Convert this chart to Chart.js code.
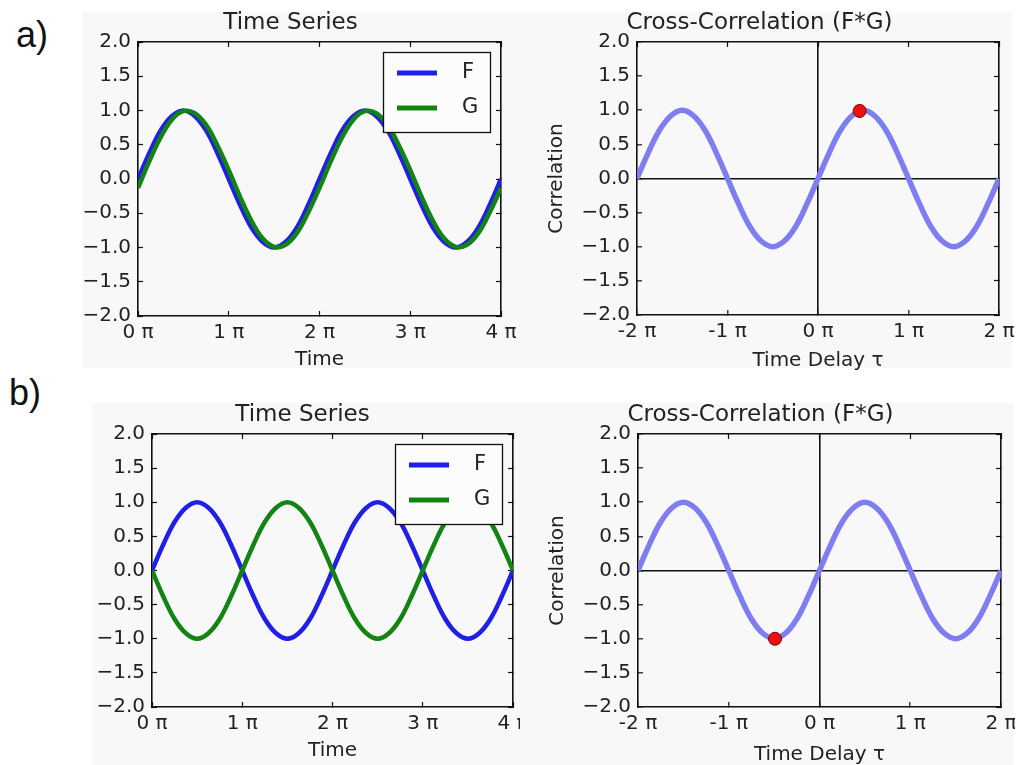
<!DOCTYPE html>
<html><head><meta charset="utf-8">
<script src="https://cdn.jsdelivr.net/npm/chart.js@4.4.1/dist/chart.umd.min.js"></script>
<style>
html,body{margin:0;padding:0;background:#fff;}
body{width:1016px;height:765px;position:relative;overflow:hidden;}
.row{position:absolute;background:#f8f8f9;}
canvas{position:absolute;}
.tag{position:absolute;font-family:'Liberation Sans',Arial,sans-serif;font-size:36px;color:#111;line-height:1;}
</style></head><body>
<div class="row" style="left:82px;top:12px;width:930px;height:356px"></div>
<div class="row" style="left:92px;top:403px;width:922px;height:362px"></div>
<div class="tag" style="left:16px;top:17px">a)</div>
<div class="tag" style="left:9px;top:375px">b)</div>
<canvas id="aL"></canvas>
<canvas id="aR"></canvas>
<canvas id="bL"></canvas>
<canvas id="bR"></canvas>
<script>
// ---- data (x in units of pi) ----
const timeX = [0,0.125,0.25,0.375,0.5,0.625,0.75,0.875,1,1.125,1.25,1.375,1.5,1.625,1.75,1.875,2,2.125,2.25,2.375,2.5,2.625,2.75,2.875,3,3.125,3.25,3.375,3.5,3.625,3.75,3.875,4];
const lagX = [-2,-1.875,-1.75,-1.625,-1.5,-1.375,-1.25,-1.125,-1,-0.875,-0.75,-0.625,-0.5,-0.375,-0.25,-0.125,0,0.125,0.25,0.375,0.5,0.625,0.75,0.875,1,1.125,1.25,1.375,1.5,1.625,1.75,1.875,2];

const fA = [0,0.38,0.71,0.92,1,0.92,0.71,0.38,0,-0.38,-0.71,-0.92,-1,-0.92,-0.71,-0.38,0,0.38,0.71,0.92,1,0.92,0.71,0.38,0,-0.38,-0.71,-0.92,-1,-0.92,-0.71,-0.38,0];
const gA = [-0.13,0.26,0.61,0.87,0.99,0.96,0.79,0.49,0.13,-0.26,-0.61,-0.87,-0.99,-0.96,-0.79,-0.49,-0.13,0.26,0.61,0.87,0.99,0.96,0.79,0.49,0.13,-0.26,-0.61,-0.87,-0.99,-0.96,-0.79,-0.49,-0.13];
const corrA = [0,0.38,0.71,0.92,1,0.92,0.71,0.38,0,-0.38,-0.71,-0.92,-1,-0.92,-0.71,-0.38,0,0.38,0.71,0.92,1,0.92,0.71,0.38,0,-0.38,-0.71,-0.92,-1,-0.92,-0.71,-0.38,0];
const dotAX = [0.46];
const dotAY = [0.99];

const fB = [0,0.38,0.71,0.92,1,0.92,0.71,0.38,0,-0.38,-0.71,-0.92,-1,-0.92,-0.71,-0.38,0,0.38,0.71,0.92,1,0.92,0.71,0.38,0,-0.38,-0.71,-0.92,-1,-0.92,-0.71,-0.38,0];
const gB = [0,-0.38,-0.71,-0.92,-1,-0.92,-0.71,-0.38,0,0.38,0.71,0.92,1,0.92,0.71,0.38,0,-0.38,-0.71,-0.92,-1,-0.92,-0.71,-0.38,0,0.38,0.71,0.92,1,0.92,0.71,0.38,0];
const corrB = [0,0.38,0.71,0.92,1,0.92,0.71,0.38,0,-0.38,-0.71,-0.92,-1,-0.92,-0.71,-0.38,0,0.38,0.71,0.92,1,0.92,0.71,0.38,0,-0.38,-0.71,-0.92,-1,-0.92,-0.71,-0.38,0];
const dotBX = [-0.49];
const dotBY = [-1.0];

const yTickLabels = ['\u22122.0','\u22121.5','\u22121.0','\u22120.5','0.0','0.5','1.0','1.5','2.0'];
const timeTickLabels = ['0 \u03c0','1 \u03c0','2 \u03c0','3 \u03c0','4 \u03c0'];
const lagTickLabels = ['-2 \u03c0','-1 \u03c0','0 \u03c0','1 \u03c0','2 \u03c0'];
const seriesNames = ['F','G'];

// ---- styling ----
const FONT = "'DejaVu Sans', sans-serif";
const TXT = '#222';
const FRAME = '#111';
const BLUE = '#1f1fe6';
const GREEN = '#138313';
const CORR = '#7e7ef0';
Chart.defaults.font.family = FONT;
Chart.defaults.color = TXT;

const pts = (xs, ys) => xs.map((x, i) => ({x, y: ys[i]}));

const boxLegend = {
  id: 'boxLegend',
  afterDatasetsDraw(chart, args, opts) {
    if (!opts || !opts.show) return;
    const {ctx, chartArea: ca} = chart;
    const w = 107, h = 80;
    const x0 = Math.round(ca.right - 11 - w), y0 = Math.round(ca.top + 10);
    ctx.save();
    ctx.fillStyle = '#fcfcfd';
    ctx.fillRect(x0, y0, w, h);
    ctx.strokeStyle = FRAME; ctx.lineWidth = 1.3;
    ctx.strokeRect(x0 + 0.5, y0 + 0.5, w, h);
    chart.data.datasets.filter(d => d.label).forEach((d, i) => {
      const y = y0 + 21 + i * 35;
      ctx.strokeStyle = d.borderColor; ctx.lineWidth = 5;
      ctx.beginPath(); ctx.moveTo(x0 + 14, y); ctx.lineTo(x0 + 54, y); ctx.stroke();
      ctx.fillStyle = TXT; ctx.font = "21px 'DejaVu Sans'";
      ctx.textBaseline = 'middle'; ctx.textAlign = 'left';
      ctx.fillText(d.label, x0 + 79, y);
    });
    ctx.restore();
  }
};

function makePanel(id, p) {
  const cv = document.getElementById(id);
  const W = p.L + p.plotW + p.R, H = p.T + p.plotH + p.B;
  cv.width = W; cv.height = H;
  cv.style.left = p.left + 'px'; cv.style.top = p.top + 'px';
  cv.style.width = W + 'px'; cv.style.height = H + 'px';
  const zeroGrid = p.zeroLines
    ? {drawOnChartArea: true, color: c => (c.tick && c.tick.value === 0) ? '#111' : 'rgba(0,0,0,0)', lineWidth: 1.6, tickColor: FRAME, tickLength: -5, tickWidth: 1.2}
    : {drawOnChartArea: false, tickColor: FRAME, tickLength: -5, tickWidth: 1.2};
  const tickFont = {size: 20, lineHeight: '22px'};
  new Chart(cv, {
    type: 'line',
    data: {datasets: p.datasets},
    options: {
      responsive: false, animation: false, events: [],
      layout: {padding: {left: 0, right: p.R, top: 0, bottom: 0}},
      plugins: {
        legend: {display: false}, tooltip: {enabled: false},
        title: {display: true, text: p.title, color: TXT,
          font: {size: 23, weight: 'normal', lineHeight: p.titleLH + 'px'},
          padding: {top: p.titlePT, bottom: p.T - p.titleLH - p.titlePT}},
        boxLegend: {show: p.legend}
      },
      scales: {
        x: {type: 'linear', position: 'bottom', min: p.xMin, max: p.xMax,
          ticks: {stepSize: 1, padding: 10.5, font: tickFont, color: TXT, maxRotation: 0, autoSkip: false,
            callback: (v, i) => p.xLabels[i]},
          grid: zeroGrid,
          border: {display: true, color: FRAME, width: 1.6},
          title: {display: true, text: p.xTitle, color: TXT, font: {size: 20, lineHeight: '22px'}, padding: {top: 0, bottom: p.xTitlePB}},
          afterFit: s => { s.height = p.B; s.paddingLeft = 0; s.paddingRight = 0; }
        },
        y: {type: 'linear', position: 'left', min: -2, max: 2,
          ticks: {stepSize: 0.5, padding: 12, font: tickFont, color: TXT, autoSkip: false,
            callback: (v, i) => yTickLabels[i]},
          grid: zeroGrid,
          border: {display: true, color: FRAME, width: 1.6},
          title: {display: !!p.yTitle, text: p.yTitle || '', color: TXT, font: {size: 20, lineHeight: '22px'}, padding: {top: p.yTitlePT || 0, bottom: 0}},
          afterFit: s => { s.width = p.L; s.paddingTop = 0; s.paddingBottom = 0; }
        },
        x2: {type: 'linear', axis: 'x', position: 'top', min: p.xMin, max: p.xMax,
          ticks: {stepSize: 1, display: false},
          grid: {drawOnChartArea: false, tickColor: FRAME, tickLength: -5, tickWidth: 1.2},
          border: {display: true, color: FRAME, width: 1.6},
          afterFit: s => { s.height = 0; s.paddingLeft = 0; s.paddingRight = 0; }
        },
        y2: {type: 'linear', axis: 'y', position: 'right', min: -2, max: 2,
          ticks: {stepSize: 0.5, display: false},
          grid: {drawOnChartArea: false, tickColor: FRAME, tickLength: -5, tickWidth: 1.2},
          border: {display: true, color: FRAME, width: 1.6},
          afterFit: s => { s.width = 0; s.paddingTop = 0; s.paddingBottom = 0; }
        }
      }
    },
    plugins: [boxLegend]
  });
}

function seriesSets(f, g) {
  return [
    {label: seriesNames[0], data: pts(timeX, f), borderColor: BLUE, borderWidth: 4.5, pointRadius: 0, tension: 0.4, fill: false, order: 1},
    {label: seriesNames[1], data: pts(timeX, g), borderColor: GREEN, borderWidth: 4.5, pointRadius: 0, tension: 0.4, fill: false, order: 0}
  ];
}
function corrSets(c, dx, dy) {
  return [
    {data: pts(lagX, c), borderColor: CORR, borderWidth: 5.5, pointRadius: 0, tension: 0.4, fill: false, order: 1},
    {data: pts(dx, dy), showLine: false, pointRadius: 6.5, backgroundColor: '#ee1010', borderColor: '#7a0000', borderWidth: 1, order: -1}
  ];
}

makePanel('aL', {left: 80, top: 0, L: 58, plotW: 363, R: 19, T: 42, plotH: 274, B: 56,
  titleLH: 25, titlePT: 11, title: 'Time Series', xTitle: 'Time', xTitlePB: 1.5,
  xMin: 0, xMax: 4, xLabels: timeTickLabels, legend: true, zeroLines: false,
  datasets: seriesSets(fA, gA)});
makePanel('aR', {left: 520, top: 0, L: 117, plotW: 362, R: 16, T: 42, plotH: 273, B: 57,
  titleLH: 25, titlePT: 11, title: 'Cross-Correlation (F*G)', xTitle: 'Time Delay \u03c4', xTitlePB: 0,
  yTitle: 'Correlation', yTitlePT: 26,
  xMin: -2, xMax: 2, xLabels: lagTickLabels, legend: false, zeroLines: true,
  datasets: corrSets(corrA, dotAX, dotAY)});
makePanel('bL', {left: 92, top: 392, L: 60, plotW: 361, R: 7, T: 42, plotH: 273, B: 58,
  titleLH: 25, titlePT: 10.5, title: 'Time Series', xTitle: 'Time', xTitlePB: 3.5,
  xMin: 0, xMax: 4, xLabels: timeTickLabels, legend: true, zeroLines: false,
  datasets: seriesSets(fB, gB)});
makePanel('bR', {left: 520, top: 392, L: 118, plotW: 363, R: 14, T: 42, plotH: 273, B: 58,
  titleLH: 25, titlePT: 10.5, title: 'Cross-Correlation (F*G)', xTitle: 'Time Delay \u03c4', xTitlePB: -1,
  yTitle: 'Correlation', yTitlePT: 27,
  xMin: -2, xMax: 2, xLabels: lagTickLabels, legend: false, zeroLines: true,
  datasets: corrSets(corrB, dotBX, dotBY)});
</script>
</body></html>
